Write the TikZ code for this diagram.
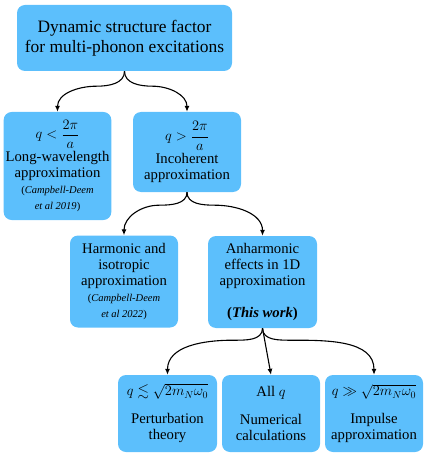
\documentclass[tikz,border=0pt]{standalone}
\usepackage{amsmath,amssymb}
\usepackage{fontspec}
\setmainfont{LiberationSerif}[
    Extension = .ttf,
    UprightFont = *-Regular,
    BoldFont = *-Bold,
    ItalicFont = *-Italic,
    BoldItalicFont = *-BoldItalic]
\definecolor{skyblu}{RGB}{92,191,252}
\usetikzlibrary{calc, arrows.meta}
\tikzstyle{box} = [
    rectangle,
    rounded corners = 8pt,
    align = center,
    inner sep = 2pt,
    fill = skyblu,
    font = \fontsize{14.7}{16}\selectfont
]
\tikzstyle{branch} = [
    -{Latex[length=6pt, width=5pt]},
    line width = 1.1pt
]
\newcommand{\refsize}{\fontsize{10.5}{13}\selectfont}

\begin{document}
\begin{tikzpicture}[x=1pt, y=1pt]
        \useasboundingbox (0,0) rectangle (430,-457);

        %% Top
        \node (dsf) [box, minimum width=215pt, minimum height=66pt, font=\fontsize{17.4}{20}\selectfont] at (124.5,-38) {Dynamic structure factor\\for multi-phonon excitations};

        %% Second row
        \node (longw) [box, minimum width=107pt, minimum height=108pt] at (57.5,-166) {$q<\dfrac{2\pi}{a}$\\[2pt]Long-wavelength\\approximation\\\refsize(\textit{Campbell-Deem}\\\refsize\textit{et al 2019})};
        \node (incoh) [box, minimum width=108pt, minimum height=80pt] at (187,-152) {$q>\dfrac{2\pi}{a}$\\[2pt]Incoherent\\approximation};

        %% Third row
        \node (harm) [box, minimum width=108pt, minimum height=92pt] at (124,-281.5) {Harmonic and\\isotropic\\approximation\\\refsize(\textit{Campbell-Deem}\\\refsize\textit{et al 2022})};
        \node (anh)  [box, minimum width=109pt, minimum height=92pt] at (262.5,-282) {Anharmonic\\effects in 1D\\approximation\\[16pt]\textbf{(\textit{This work})}};

        %% Bottom row
        \node (pert) [box, minimum width=99pt, minimum height=77pt] at (167.5,-413.5) {$q\lesssim\sqrt{2m_N\omega_0}$\\[12pt]Perturbation\\theory};
        \node (num)  [box, minimum width=98pt, minimum height=77pt] at (271,-413.5) {All $q$\\[12pt]Numerical\\calculations};
        \node (imp)  [box, minimum width=98pt, minimum height=77pt] at (374,-413.5) {$q\gg\sqrt{2m_N\omega_0}$\\[12pt]Impulse\\approximation};

        %% Branches
        \draw[branch] (dsf.south) to[out=-90,in=0] ++(-28,-15) to[out=180,in=90] (longw.north);
        \draw[branch] (dsf.south) to[out=-90,in=180] ++(28,-15) to[out=0,in=90] (incoh.north);
        \draw[branch] (incoh.south) to[out=-90,in=0] ++(-28,-13) to[out=180,in=90] (harm.north);
        \draw[branch] (incoh.south) to[out=-90,in=180] ++(28,-13) to[out=0,in=90] (anh.north);
        \draw[branch] (anh.south) to[out=-90,in=0] ++(-30,-12) to[out=180,in=90] (pert.north);
        \draw[branch] (anh.south) -- (num.north);
        \draw[branch] (anh.south) to[out=-90,in=180] ++(30,-12) to[out=0,in=90] (imp.north);

    \end{tikzpicture}
\end{document}
